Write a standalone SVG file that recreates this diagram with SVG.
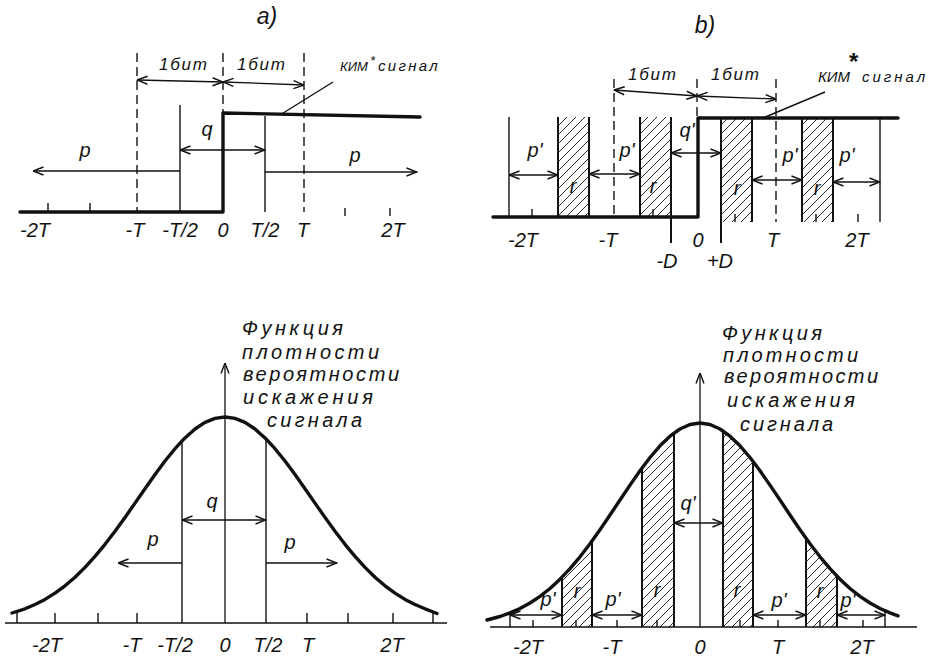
<svg xmlns="http://www.w3.org/2000/svg" width="940" height="660" viewBox="0 0 940 660">
<style>
text{font-family:"Liberation Sans","DejaVu Sans",sans-serif;font-style:italic;fill:#111}
.lb{font-size:20px;text-anchor:middle}
.sm{font-size:17px;text-anchor:middle}
.hd{font-size:23px;text-anchor:middle}
.fn{font-size:20px}
.th{fill:none;stroke:#111;stroke-width:1.4}
.tk{fill:none;stroke:#111;stroke-width:3.4;stroke-linejoin:round;stroke-linecap:round}
.bd{fill:none;stroke:#111;stroke-width:2}
.ds{fill:none;stroke:#111;stroke-width:1.4;stroke-dasharray:9 5}
.ar{fill:none;stroke:#111;stroke-width:1.3;marker-end:url(#ah)}
.ar2{fill:none;stroke:#111;stroke-width:1.3;marker-start:url(#ah);marker-end:url(#ah)}
.ht{fill:url(#hatch);stroke:none}
</style>
<defs>
<marker id="ah" viewBox="0 0 12 10" refX="11.5" refY="5" markerWidth="12" markerHeight="10" markerUnits="userSpaceOnUse" orient="auto-start-reverse">
<path d="M1,1 L11.5,5 L1,9" fill="none" stroke="#111" stroke-width="1.4"/>
</marker>
<pattern id="hatch" patternUnits="userSpaceOnUse" width="9" height="9">
<path d="M-1,10 L10,-1 M-3,3 L3,-3 M6,12 L12,6" stroke="#111" stroke-width="0.9"/>
</pattern>
</defs>
<rect width="940" height="660" fill="#fff"/>

<!-- Panel a -->
<g id="panel-a">
<text class="hd" x="267" y="24">a)</text>
<line class="ds" x1="137" y1="53" x2="137" y2="212"/>
<line class="ds" x1="223" y1="53" x2="223" y2="113"/>
<line class="ds" x1="304" y1="53" x2="304" y2="212"/>
<line class="th" x1="180" y1="105" x2="180" y2="212"/>
<line class="th" x1="265" y1="116" x2="265" y2="212"/>
<polyline class="tk" points="20,212 223,212 223,113 420,117"/>
<path class="th" d="M48,203 V212 M90,203 V212 M345,208 V216 M390,208 V216"/>
<path class="th" d="M280,115 L333,82"/>
<text class="sm" x="183" y="70" textLength="48" lengthAdjust="spacing">1бит</text>
<text class="sm" x="261" y="70" textLength="48" lengthAdjust="spacing">1бит</text>
<text class="lb" x="207" y="136">q</text>
<text class="lb" x="85" y="157">p</text>
<text class="lb" x="355" y="162">p</text>
<text y="71" font-size="13"><tspan x="340">КИМ</tspan><tspan x="370" dy="-6" font-size="13">*</tspan><tspan x="378" dy="6" font-size="15" letter-spacing="2.3">сигнал</tspan></text>
<text class="lb" x="35" y="237">-2T</text>
<text class="lb" x="135" y="237">-T</text>
<text class="lb" x="180" y="237">-T/2</text>
<text class="lb" x="223" y="237">0</text>
<text class="lb" x="265" y="237">T/2</text>
<text class="lb" x="303" y="237">T</text>
<text class="lb" x="393" y="237">2T</text>
</g>

<!-- Panel b -->
<g id="panel-b">
<text class="hd" x="705" y="33">b)</text>
<rect class="ht" x="558" y="117" width="31" height="100"/>
<rect class="ht" x="640" y="117" width="31" height="100"/>
<rect class="ht" x="721" y="118" width="31" height="104"/>
<rect class="ht" x="802" y="118" width="31" height="104"/>
<line class="th" x1="509" y1="117" x2="509" y2="217"/>
<path class="bd" d="M558,117 V217 M589,117 V217 M640,117 V217 M671,117 V243 M721,118 V243 M752,118 V222 M802,118 V222 M833,118 V222"/>
<line class="th" x1="880" y1="118" x2="880" y2="222"/>
<line class="ds" x1="614" y1="79" x2="614" y2="217"/>
<line class="ds" x1="697" y1="79" x2="697" y2="118"/>
<line class="ds" x1="776" y1="79" x2="776" y2="222"/>
<polyline class="tk" points="493,217 698,217 698,118 898,118"/>
<path class="th" d="M532,209 V217 M653,209 V217 M735,214 V222 M816,214 V222 M858,214 V222"/>
<path class="th" d="M763,118 L825,92"/>
<text class="sm" x="652" y="80" textLength="48" lengthAdjust="spacing">1бит</text>
<text class="sm" x="735" y="80" textLength="48" lengthAdjust="spacing">1бит</text>
<text class="lb" x="535" y="157">p'</text>
<text class="lb" x="627" y="157">p'</text>
<text class="lb" x="687" y="137">q'</text>
<text class="lb" x="790" y="162">p'</text>
<text class="lb" x="847" y="162">p'</text>
<text class="lb" x="573" y="193">r</text>
<text class="lb" x="653" y="193">r</text>
<text class="lb" x="737" y="195">r</text>
<text class="lb" x="817" y="195">r</text>
<text y="82" font-size="15"><tspan x="818">КИМ</tspan><tspan x="848" dy="-12" font-size="24" font-weight="bold">*</tspan><tspan x="862" dy="12" letter-spacing="3">сигнал</tspan></text>
<text class="lb" x="523" y="247">-2T</text>
<text class="lb" x="608" y="247">-T</text>
<text class="lb" x="698" y="247">0</text>
<text class="lb" x="773" y="247">T</text>
<text class="lb" x="857" y="247">2T</text>
<text class="lb" x="667" y="268">-D</text>
<text class="lb" x="720" y="268">+D</text>
</g>

<!-- Panel c (bottom left) -->
<g id="panel-c">
<line class="th" x1="5" y1="623" x2="447" y2="623"/>
<path class="th" d="M17,613 V623 M55,613 V623 M98,613 V623 M137,613 V623 M307,613 V623 M348,613 V623 M393,613 V623 M433,613 V623"/>
<line class="th" x1="182" y1="440" x2="182" y2="623"/>
<line class="th" x1="266" y1="439" x2="266" y2="623"/>
<polyline class="tk" points="12,613 25,608.8 35,604.5 45,599.4 55,593.1 65,585.8 75,577.2 85,567.4 95,556.4 105,544.3 115,531.2 125,517.4 135,503.1 145,488.7 155,474.5 165,461 175,448.7 185,437.9 195,429 205,422.4 215,418.4 225,417 235,418.4 245,422.4 255,429 265,437.9 275,448.7 285,461 295,474.5 305,488.7 315,503.1 325,517.4 335,531.2 345,544.3 355,556.4 365,567.4 375,577.2 385,585.8 395,593.1 405,599.4 415,604.5 425,608.8 437,613.5"/>
<text class="lb" x="212" y="508">q</text>
<text class="lb" x="153" y="546">p</text>
<text class="lb" x="290" y="549">p</text>
<text class="fn" x="242" y="335" textLength="101" lengthAdjust="spacing">Функция</text>
<text class="fn" x="242" y="359" textLength="137" lengthAdjust="spacing">плотности</text>
<text class="fn" x="243" y="381" textLength="156" lengthAdjust="spacing">вероятности</text>
<text class="fn" x="243" y="404" textLength="130" lengthAdjust="spacing">искажения</text>
<text class="fn" x="267" y="427" textLength="95" lengthAdjust="spacing">сигнала</text>
<text class="lb" x="47" y="652">-2T</text>
<text class="lb" x="132" y="652">-T</text>
<text class="lb" x="175" y="652">-T/2</text>
<text class="lb" x="225" y="652">0</text>
<text class="lb" x="268" y="652">T/2</text>
<text class="lb" x="308" y="652">T</text>
<text class="lb" x="392" y="652">2T</text>
</g>

<!-- Panel d (bottom right) -->
<g id="panel-d">
<polygon class="ht" points="562,627 562,577.2 570,568.7 580,556.8 590,543.7 592,541 592,627"/>
<polygon class="ht" points="642,627 642,468 650,457.5 660,445.8 670,436.2 674,433 674,627"/>
<polygon class="ht" points="723,627 723,430.8 730,436.2 740,445.8 750,457.5 753,461.3 753,627"/>
<polygon class="ht" points="806,627 806,538.2 810,543.7 820,556.8 830,568.7 837,576.2 837,627"/>
<line class="th" x1="490" y1="627" x2="917" y2="627"/>
<line class="th" x1="510" y1="613" x2="510" y2="627"/>
<path class="bd" d="M562,577 V627 M592,541 V627 M642,468 V627 M674,433 V627 M723,431 V627 M753,461 V627 M806,538 V627 M837,576 V627"/>
<line class="th" x1="885" y1="611" x2="885" y2="627"/>
<path class="th" d="M533,620 V627 M576,620 V627 M617,620 V627 M657,620 V627 M740,620 V627 M778,620 V627 M820,620 V627 M863,620 V627"/>
<polyline class="tk" points="487,620 500,616.5 510,612.9 520,608.5 530,603 540,596.4 550,588.5 560,579.2 570,568.7 580,556.8 590,543.7 600,529.7 610,515 620,500 630,485.1 640,470.8 650,457.5 660,445.8 670,436.2 680,429 690,424.5 700,423 710,424.5 720,429 730,436.2 740,445.8 750,457.5 760,470.8 770,485.1 780,500 790,515 800,529.7 810,543.7 820,556.8 830,568.7 840,579.2 850,588.5 860,596.4 870,603 880,608.5 890,612.9 898,615.8"/>
<text class="lb" x="548" y="606">p'</text>
<text class="lb" x="577" y="598">r</text>
<text class="lb" x="613" y="606">p'</text>
<text class="lb" x="657" y="597">r</text>
<text class="lb" x="688" y="510">q'</text>
<text class="lb" x="737" y="597">r</text>
<text class="lb" x="779" y="607">p'</text>
<text class="lb" x="820" y="598">r</text>
<text class="lb" x="848" y="607">p'</text>
<text class="fn" x="722" y="340" textLength="100" lengthAdjust="spacing">Функция</text>
<text class="fn" x="723" y="362" textLength="135" lengthAdjust="spacing">плотности</text>
<text class="fn" x="724" y="383" textLength="154" lengthAdjust="spacing">вероятности</text>
<text class="fn" x="727" y="407" textLength="128" lengthAdjust="spacing">искажения</text>
<text class="fn" x="740" y="431" textLength="93" lengthAdjust="spacing">сигнала</text>
<text class="lb" x="528" y="654">-2T</text>
<text class="lb" x="612" y="654">-T</text>
<text class="lb" x="700" y="654">0</text>
<text class="lb" x="778" y="654">T</text>
<text class="lb" x="862" y="654">2T</text>
</g>

<!-- Connectors: dimension arrows and axes -->
<g id="connectors">
<path class="ar2" d="M137,80 L223,82"/>
<path class="ar2" d="M223,82 L304,85"/>
<path class="ar2" d="M180,150 L265,150"/>
<path class="ar" d="M180,171 L33,171"/>
<path class="ar" d="M265,172 L417,172"/>
<path class="ar2" d="M614,90 L697,96"/>
<path class="ar2" d="M697,96 L776,99"/>
<path class="ar2" d="M509,175 L558,175"/>
<path class="ar2" d="M589,174 L640,174"/>
<path class="ar2" d="M671,153 L721,153"/>
<path class="ar2" d="M752,180 L802,180"/>
<path class="ar2" d="M833,182 L880,182"/>
<path class="ar" d="M225,623 L225,363"/>
<path class="ar2" d="M182,520 L266,520"/>
<path class="ar" d="M182,563 L118,563"/>
<path class="ar" d="M266,563 L337,563"/>
<path class="ar" d="M700,627 L700,373"/>
<path class="ar2" d="M510,615 L562,615"/>
<path class="ar2" d="M592,615 L642,615"/>
<path class="ar2" d="M674,523 L723,523"/>
<path class="ar2" d="M753,615 L806,615"/>
<path class="ar2" d="M837,615 L885,615"/>
</g>
</svg>
